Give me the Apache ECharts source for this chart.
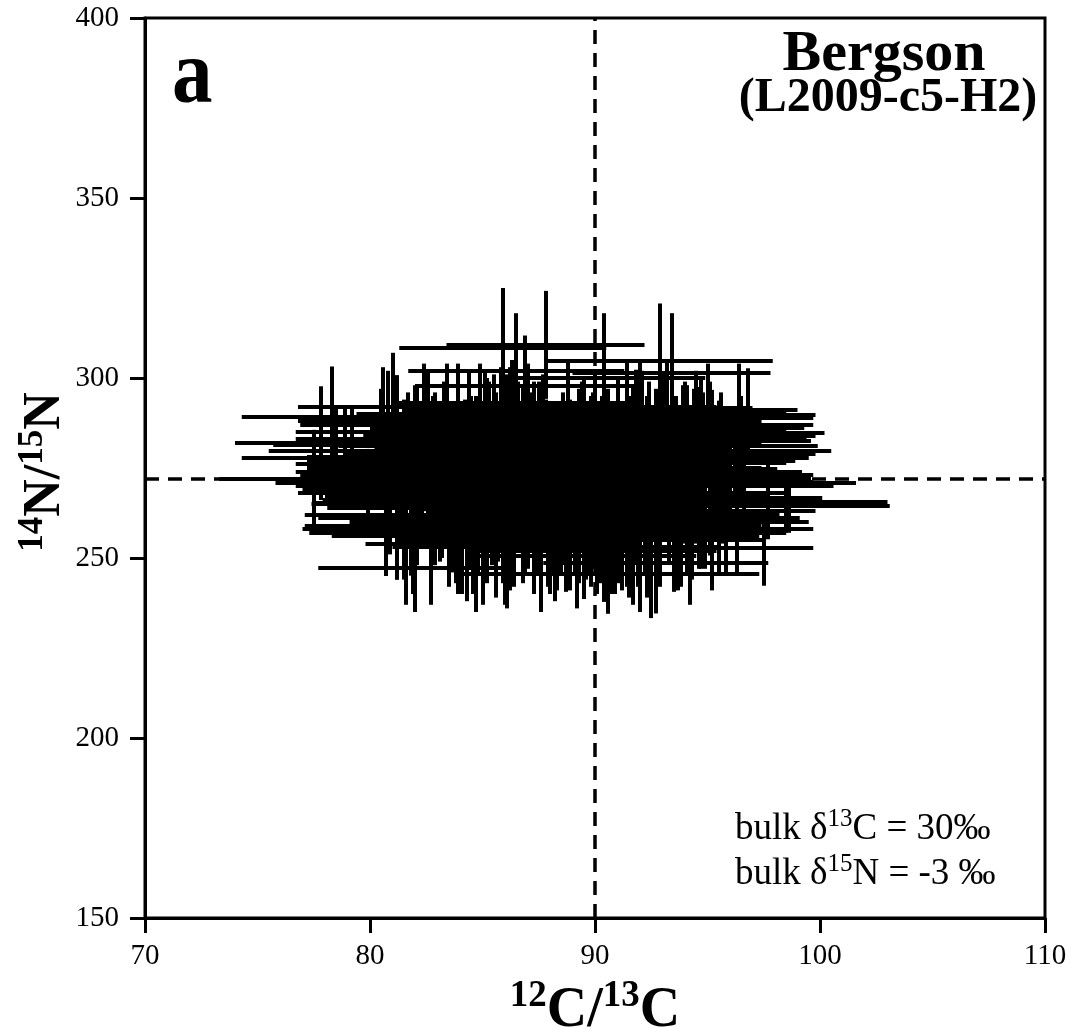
<!DOCTYPE html>
<html><head><meta charset="utf-8">
<script src="https://cdn.jsdelivr.net/npm/echarts@6/dist/echarts.min.js"></script>
<style>html,body{margin:0;padding:0;background:#fff}#c{width:1074px;height:1029px}</style>
</head><body><div id="c"></div>
<script>
// Axis ticks
const xTicks = [70, 80, 90, 100, 110];
const yTicks = [150, 200, 250, 300, 350, 400];
// Reference (bulk) ratios shown as dashed lines
const refX = 90;
const refY = 272;
// Grain centres (12C/13C, 14N/15N) and 1-sigma errors
const ptX = [
84.2,87.5,90.8,86.1,92.4,83.7,88.9,85.3,91.6,89.7,82.8,86.9,93.5,87.9,84.9,90.2,88.3,85.8,92.9,86.6,
83.1,89.4,91.1,87.2,84.5,94.2,88.6,85.1,90.5,86.4,82.3,92.0,87.7,89.1,84.0,91.9,86.0,88.0,93.1,85.6,
90.0,83.4,87.0,89.8,85.0,92.6,88.2,86.8,91.3,84.7,94.8,87.4,89.6,83.9,90.9,86.3,88.7,85.5,92.2,87.1,
82.6,89.2,91.5,86.7,84.4,93.8,88.4,85.9,90.4,87.6,83.3,91.8,86.2,89.0,84.8,92.7,88.1,85.2,90.7,87.3,
95.1,84.1,89.9,86.5,91.0,83.6,88.8,85.7,93.3,87.8,82.1,90.3,86.0,89.3,84.6,92.1,88.5,85.4,91.4,87.0,
83.0,89.5,94.5,86.9,84.3,90.6,88.0,85.9,92.5,87.5,81.8,91.2,86.4,89.7,83.8,93.0,88.3,85.1,90.1,87.2,
84.9,92.8,86.6,89.4,83.5,91.7,88.9,85.6,90.8,87.9,95.6,84.0,89.1,86.1,92.3,83.2,88.6,85.3,91.5,87.4,
82.9,90.4,94.0,86.8,84.5,89.8,88.2,85.0,93.6,87.7,
81.0,95.8,83.3,93.9,80.7,96.2,82.4,94.6,84.1,92.3,81.7,95.3,83.9,93.2,80.9,96.5,82.7,94.1,85.4,91.6,
81.4,95.0,84.6,92.8,82.0,94.9,86.3,90.9,83.0,93.7,80.6,96.0,84.3,91.9,82.2,95.5,85.8,89.3,87.1,88.4,
81.2,94.4,83.6,92.0,80.8,95.7,86.9,90.3,84.0,93.4,82.5,96.3,85.2,89.9,81.6,94.8,87.4,88.8,83.7,92.6,
80.5,95.2,84.8,91.4,82.9,93.0,86.1,90.0,81.3,94.3,83.1,96.4,85.6,89.5,82.1,95.9,87.0,91.0,84.4,92.9,
81.9,94.0,86.7,88.1,83.4,93.6,85.0,90.6,80.9,95.4,82.6,94.7,84.2,91.7,86.4,89.0,83.8,92.4,87.7,88.6,
83.5,86.2,88.9,91.4,84.8,87.3,90.1,92.7,85.6,89.6,93.8,82.9,86.8,90.7,88.2,84.1,91.9,87.9,85.2,89.3,
78.3,77.8,77.5,78.5,78.9,79.2,79.9,80.8,81.2,81.5,81.9,81.8,81.2,82.0,
85.9,87.8,86.5,86.9,92.9,93.4,90.4,
94.7,95.2,94.6,94.5,95.5,94.5,93.7,93.4,96.6,95.8,95.1,97.7,98.5,94.1,93.5,92.4,97.5,92.7,90.6,92.0,91.8,96.8,94.5,95.1,98.6,
92.5,84.7,87.6,89.2,93.5,90.4,88.7,91.1,85.9,86.4,89.5
];
const ptY = [
271,279,264,284,268,276,259,287,273,266,281,262,277,270,289,265,274,283,260,278,
269,286,263,275,280,258,272,285,267,279,274,261,288,270,264,282,276,257,273,284,
266,278,290,263,271,277,260,286,268,275,281,265,272,287,262,279,269,283,258,274,
276,264,280,271,289,267,275,261,284,270,278,263,286,273,259,281,268,277,265,285,
272,260,279,274,287,266,282,270,263,276,283,269,257,280,273,288,264,278,271,262,
275,284,268,291,261,277,270,285,266,279,272,259,282,275,267,286,263,273,280,269,
278,265,287,271,262,283,274,258,276,268,281,270,264,289,273,266,279,284,260,275,
277,263,270,285,267,280,256,274,282,271,
292,258,276,284,262,279,288,266,271,257,283,274,260,290,268,281,256,286,264,277,
273,289,259,270,285,263,293,267,278,261,287,272,256,282,275,265,291,258,280,269,
262,284,276,255,288,271,266,283,259,291,278,263,286,274,257,281,268,290,264,275,
285,260,272,292,267,279,256,287,270,262,276,289,258,283,265,273,292,261,280,268,
259,286,274,263,290,277,257,284,269,272,288,265,279,256,282,270,261,285,273,266,
256,253,258,255,261,257,252,259,254,260,257,262,255,253,261,258,256,254,259,262,
289.2,281.9,272.0,277.8,279.6,281.5,270.9,288.0,286.9,269.0,265.3,261.1,258.0,247.2,
308.3,309.2,302.0,297.8,304.7,301.4,300.0,
286.9,284.7,282.5,281.1,279.7,277.8,276.4,274.7,270.8,270.0,266.7,265.6,264.4,261.1,256.9,255.6,252.8,248.6,245.5,291.7,290.3,289.7,285.0,283.0,264.6,
255.0,257.0,258.0,257.5,258.0,258.0,259.0,260.0,262.0,260.0,250.6
];
const errX = [
4.8,5.4,4.1,5.9,4.4,5.0,3.9,5.7,4.6,6.1,4.2,5.2,3.7,5.5,4.8,5.9,4.0,5.1,4.5,5.8,
5.4,3.9,4.9,6.0,4.3,3.8,5.3,4.7,6.2,4.1,5.6,4.5,5.0,3.9,5.9,4.4,5.4,4.8,3.6,5.8,
4.2,5.9,4.0,5.2,4.6,5.5,3.7,6.1,4.8,5.1,3.6,5.7,4.4,4.9,6.0,3.9,5.3,4.3,4.7,5.0,
5.9,4.5,4.1,5.6,4.8,3.8,5.3,4.2,5.9,4.0,5.4,4.4,5.8,3.9,4.9,5.2,6.2,4.6,3.7,5.5,
3.6,5.0,4.4,6.0,4.1,5.7,4.8,5.1,3.8,5.9,5.4,4.2,5.5,3.9,4.8,5.3,4.3,6.1,4.0,5.8,
5.2,4.6,3.7,4.9,5.9,3.9,5.6,4.4,5.0,4.5,5.7,4.1,6.0,4.7,5.1,3.7,5.4,4.2,4.8,5.9,
4.4,3.9,5.8,4.8,5.3,3.8,4.3,6.2,4.0,5.5,3.6,5.2,4.6,5.9,3.9,5.0,4.9,5.6,4.4,4.1,
5.7,4.5,3.6,5.4,5.9,4.7,5.1,4.2,3.8,5.3,
4.2,3.9,5.5,4.0,3.6,3.6,4.8,4.3,5.0,4.7,4.2,3.9,4.8,5.3,4.1,3.4,4.4,5.2,3.8,5.4,
4.5,4.4,4.0,5.6,4.9,4.2,5.3,4.6,5.8,4.1,3.7,3.6,5.7,3.9,5.0,4.0,4.3,5.5,4.7,5.1,
3.8,5.4,4.6,5.0,3.9,4.0,4.9,5.3,4.2,5.6,4.7,3.5,5.2,4.5,4.3,3.9,5.0,4.4,5.5,4.8,
3.8,4.3,5.6,4.0,4.9,5.4,4.2,5.7,4.6,3.9,5.3,3.3,4.1,5.8,4.7,3.8,4.4,5.2,3.8,5.5,
4.8,5.1,4.3,5.6,4.0,5.3,4.9,4.6,3.9,4.2,5.0,4.4,5.4,3.9,5.2,4.7,5.5,4.1,4.8,5.9,
4.6,5.2,4.3,5.0,5.5,4.1,5.3,4.7,5.8,4.4,4.2,4.5,5.6,4.9,5.1,4.8,5.4,4.0,5.7,4.6,
4.0,3.8,4.2,4.2,3.4,3.5,4.1,4.0,4.2,3.7,4.3,4.1,4.2,4.3,
4.6,4.4,4.8,4.9,5.0,4.4,4.5,
5.0,5.0,5.0,4.8,5.0,5.0,4.8,4.7,5.0,4.8,5.0,5.3,4.6,5.0,5.0,4.8,2.2,5.0,6.7,5.0,5.0,3.0,4.0,4.3,3.2,
5.0,5.0,5.0,5.0,4.6,4.8,4.5,4.7,4.4,4.6,5.0
];
const errY = [
16,13,19,14,21,15,18,12,17,20,14,16,13,19,15,22,17,12,18,14,
20,13,16,18,15,21,14,17,12,19,16,22,13,18,15,14,20,17,16,12,
19,15,13,21,17,14,18,12,16,20,15,19,13,17,22,14,16,18,12,21,
15,17,14,19,13,20,16,18,12,15,21,14,17,19,13,16,22,15,18,14,
12,20,17,15,13,19,16,21,14,18,15,12,20,17,16,14,19,13,22,15,
18,16,14,12,21,17,15,19,13,20,16,18,14,12,17,15,22,19,13,16,
14,21,12,18,16,15,20,17,13,19,15,14,18,12,22,16,17,13,21,15,
19,14,16,12,20,15,18,17,13,16,
15,13,18,14,17,12,16,19,14,18,13,16,20,15,17,14,19,12,16,18,
14,15,19,17,13,16,12,18,15,20,16,14,18,13,17,19,12,15,16,14,
18,13,15,20,14,17,16,12,19,13,15,18,14,16,20,13,17,15,18,14,
12,19,16,13,17,15,20,14,16,18,13,15,19,14,17,16,12,18,15,17,
19,13,16,18,14,15,20,13,17,16,14,18,15,19,13,16,18,14,15,17,
14,12,16,13,15,17,12,14,13,16,15,14,12,13,17,15,14,12,16,13,
14.0,15.8,13.6,13.9,12.8,11.0,9.4,13.4,13.9,25.0,19.0,16.0,14.0,12.2,
16.7,15.0,16.0,14.0,16.0,16.6,18.0,
13,12,15,11,14,12,15,13,12,14,16,10.4,7.4,15,14,13,10.5,14,11,13,12,13,17,16,7.6,
21.7,22.0,23.0,21.5,17.4,20.2,18.4,16.7,17.6,18.0,12.0
];

const data = ptX.map((x, i) => [x, ptY[i], errX[i], errY[i]]);
const FONT = '"Liberation Serif","Times New Roman",serif';
const snap = v => Math.round(v);

const chart = echarts.init(document.getElementById('c'), null, {renderer: 'canvas'});
chart.setOption({
  animation: false,
  backgroundColor: '#fff',
  grid: {left: 145, right: 29, top: 18, bottom: 111, show: true, borderColor: '#000', borderWidth: 3, backgroundColor: 'transparent'},
  xAxis: {
    type: 'value', min: xTicks[0], max: xTicks[xTicks.length - 1], interval: 10,
    axisLine: {show: true, onZero: false, lineStyle: {color: '#000', width: 3}},
    axisTick: {show: true, inside: false, length: 15, lineStyle: {color: '#000', width: 3}},
    axisLabel: {color: '#000', fontFamily: FONT, fontSize: 29, margin: 24},
    splitLine: {show: false}
  },
  yAxis: {
    type: 'value', min: yTicks[0], max: yTicks[yTicks.length - 1], interval: 50,
    axisLine: {show: true, onZero: false, lineStyle: {color: '#000', width: 3}},
    axisTick: {show: true, inside: false, length: 15, lineStyle: {color: '#000', width: 3}},
    axisLabel: {color: '#000', fontFamily: FONT, fontSize: 29, margin: 26},
    splitLine: {show: false}
  },
  series: [{
    type: 'custom',
    data: data,
    encode: {x: 0, y: 1},
    renderItem: function (params, api) {
      const x = api.value(0), y = api.value(1), ex = api.value(2), ey = api.value(3);
      const l = api.coord([x - ex, y]), r = api.coord([x + ex, y]);
      const t = api.coord([x, y + ey]), b = api.coord([x, y - ey]);
      const hy = snap(l[1]), vx = snap(t[0]);
      const st = {stroke: '#000', lineWidth: 4};
      return {type: 'group', children: [
        {type: 'line', shape: {x1: l[0], y1: hy, x2: r[0], y2: hy}, style: st},
        {type: 'line', shape: {x1: vx, y1: t[1], x2: vx, y2: b[1]}, style: st}
      ]};
    },
    markLine: {
      silent: true, symbol: 'none', label: {show: false},
      lineStyle: {color: '#000', width: 3.5, type: [14, 9]},
      data: [{xAxis: refX}, {yAxis: refY}]
    },
    z: 2
  }],
  graphic: [
    {type: 'text', left: 172, top: 34, z: 10, scaleX: 0.9,
      style: {text: 'a', fontFamily: FONT, fontWeight: 'bold', fontSize: 90, fill: '#000'}},
    {type: 'text', x: 884, y: 55, z: 10,
      style: {text: 'Bergson', fontFamily: FONT, fontWeight: 'bold', fontSize: 58, fill: '#000', align: 'center', verticalAlign: 'middle'}},
    {type: 'text', x: 888, y: 99, z: 10,
      style: {text: '(L2009-c5-H2)', fontFamily: FONT, fontWeight: 'bold', fontSize: 48, fill: '#000', align: 'center', verticalAlign: 'middle'}},
    {type: 'text', x: 735, y: 826, z: 10,
      style: {text: '{m|bulk δ}{s|13}{m|C = 30‰}', align: 'left', verticalAlign: 'middle', fill: '#000',
        rich: {m: {fontFamily: FONT, fontSize: 37, lineHeight: 44, verticalAlign: 'bottom', fill: '#000'},
               s: {fontFamily: FONT, fontSize: 25, lineHeight: 25, verticalAlign: 'bottom', padding: [0, 0, 16, 0], fill: '#000'}}}},
    {type: 'text', x: 735, y: 871, z: 10,
      style: {text: '{m|bulk δ}{s|15}{m|N = -3 ‰}', align: 'left', verticalAlign: 'middle', fill: '#000',
        rich: {m: {fontFamily: FONT, fontSize: 37, lineHeight: 44, verticalAlign: 'bottom', fill: '#000'},
               s: {fontFamily: FONT, fontSize: 25, lineHeight: 25, verticalAlign: 'bottom', padding: [0, 0, 16, 0], fill: '#000'}}}},
    {type: 'text', x: 595, y: 1008, z: 10,
      style: {text: '{s|12}{m|C/}{s|13}{m|C}', align: 'center', verticalAlign: 'middle', fill: '#000',
        rich: {m: {fontFamily: FONT, fontWeight: 'bold', fontSize: 56, lineHeight: 64, verticalAlign: 'bottom', fill: '#000'},
               s: {fontFamily: FONT, fontWeight: 'bold', fontSize: 37, lineHeight: 37, verticalAlign: 'bottom', padding: [0, 0, 25, 0], fill: '#000'}}}},
    {type: 'text', x: 42, y: 472, rotation: Math.PI / 2, z: 10,
      style: {text: '{s|14}{m|N/}{s|15}{m|N}', align: 'center', verticalAlign: 'middle', fill: '#000',
        rich: {m: {fontFamily: FONT, fontWeight: 'bold', fontSize: 52, lineHeight: 60, verticalAlign: 'bottom', fill: '#000'},
               s: {fontFamily: FONT, fontWeight: 'bold', fontSize: 35, lineHeight: 35, verticalAlign: 'bottom', padding: [0, 0, 22, 0], fill: '#000'}}}}
  ]
});
</script>
</body></html>
